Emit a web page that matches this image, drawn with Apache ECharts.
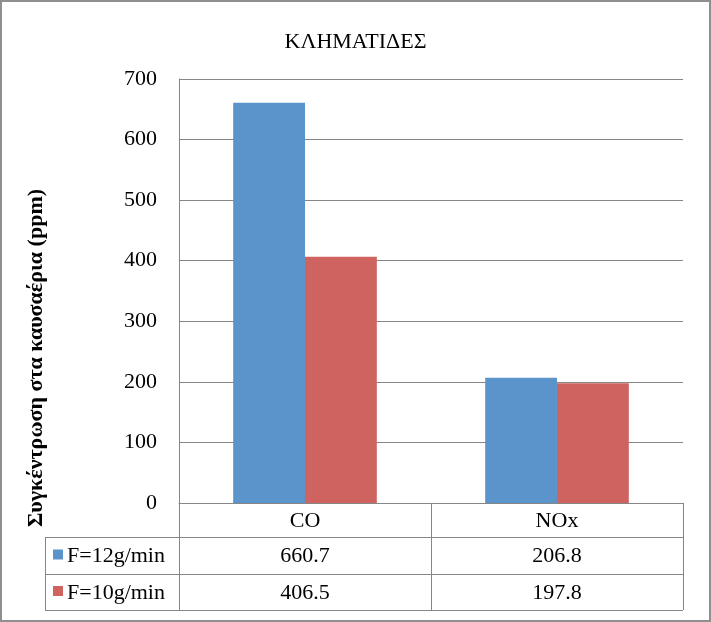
<!DOCTYPE html>
<html><head><meta charset="utf-8">
<script src="https://cdn.jsdelivr.net/npm/echarts@6/dist/echarts.min.js"></script>
<style>html,body{margin:0;padding:0;background:#fff}#c{width:711px;height:622px}</style>
</head><body><div id="c"></div>
<script>
var categories = ['CO', 'NOx'];
var seriesNames = ['F=12g/min', 'F=10g/min'];
var f12 = [660.7, 206.8];
var f10 = [406.5, 197.8];
var yTicks = [0, 100, 200, 300, 400, 500, 600, 700];
var title = 'ΚΛΗΜΑΤΙΔΕΣ';
var yName = 'Συγκέντρωση στα καυσαέρια (ppm)';

var colors = ['#5b93cb', '#cf6360'];
var FONT = '"Liberation Serif", "Times New Roman", serif';
var FS = 22;
var LC = '#868686';
var chart = echarts.init(document.getElementById('c'), null, {renderer: 'canvas'});

var G = {left: 179, top: 79, width: 504, height: 424};
var rows = [503, 537, 574, 610];
var tableLeft = 45;

chart.setOption({
  animation: false,
  color: colors,
  title: {text: title, left: 'center', top: 26, textStyle: {fontFamily: FONT, fontWeight: 'normal', fontSize: FS, color: '#000'}},
  grid: {left: G.left, top: G.top, width: G.width, height: G.height},
  xAxis: {type: 'category', data: categories, axisLine: {lineStyle: {color: LC}}, axisTick: {show: false}, axisLabel: {show: false}},
  yAxis: {type: 'value', min: yTicks[0], max: yTicks[yTicks.length - 1], interval: 100,
    axisLine: {show: true, lineStyle: {color: LC}}, axisTick: {show: false},
    splitLine: {lineStyle: {color: LC, width: 1}},
    axisLabel: {margin: 22, fontFamily: FONT, fontSize: FS, color: '#000'}},
  series: [
    {name: seriesNames[0], type: 'bar', data: f12, barGap: '0%', barCategoryGap: '43%'},
    {name: seriesNames[1], type: 'bar', data: f10, barGap: '0%', barCategoryGap: '43%'}
  ]
});

function buildTable() {
  var els = [];
  var right = G.left + G.width;
  var line = function (x1, y1, x2, y2) {
    els.push({type: 'line', shape: {x1: x1, y1: y1, x2: x2, y2: y2}, style: {stroke: LC, lineWidth: 1}, silent: true});
  };
  var text = function (x, y, t, align) {
    els.push({type: 'text', x: x, y: y, style: {text: t, font: FS + 'px ' + FONT, fill: '#000', align: align || 'center', verticalAlign: 'middle'}});
  };
  line(G.left, rows[0] + 0.5, right, rows[0] + 0.5);
  for (var i = 1; i < rows.length; i++) line(tableLeft, rows[i] + 0.5, right, rows[i] + 0.5);
  line(tableLeft + 0.5, rows[1], tableLeft + 0.5, rows[3]);
  var bounds = [G.left];
  var cw = G.width / categories.length;
  for (var k = 1; k <= categories.length; k++) bounds.push(G.left + cw * k);
  bounds.forEach(function (b) { line(Math.round(b) + 0.5, rows[0], Math.round(b) + 0.5, rows[3]); });
  var data = [f12, f10];
  categories.forEach(function (c, j) {
    var cx = chart.convertToPixel({xAxisIndex: 0}, c);
    text(cx, (rows[0] + rows[1]) / 2 + 1, c);
    for (var r = 0; r < 2; r++) text(cx, (rows[r + 1] + rows[r + 2]) / 2 + 1, data[r][j].toFixed(1));
  });
  for (var r = 0; r < 2; r++) {
    var cy = (rows[r + 1] + rows[r + 2]) / 2;
    els.push({type: 'rect', shape: {x: 53, y: cy - 6, width: 10, height: 10}, style: {fill: colors[r]}});
    text(67, cy + 1, seriesNames[r], 'left');
  }
  els.push({type: 'text', x: 36, y: 358, rotation: Math.PI / 2,
    style: {text: yName, font: 'bold ' + FS + 'px ' + FONT, fill: '#000', align: 'center', verticalAlign: 'middle'}});
  els.push({type: 'rect', shape: {x: 1, y: 1, width: 709, height: 620}, style: {fill: 'none', stroke: '#8f8f8f', lineWidth: 2}, silent: true});
  return els;
}
chart.setOption({graphic: {elements: buildTable()}});
</script></body></html>
